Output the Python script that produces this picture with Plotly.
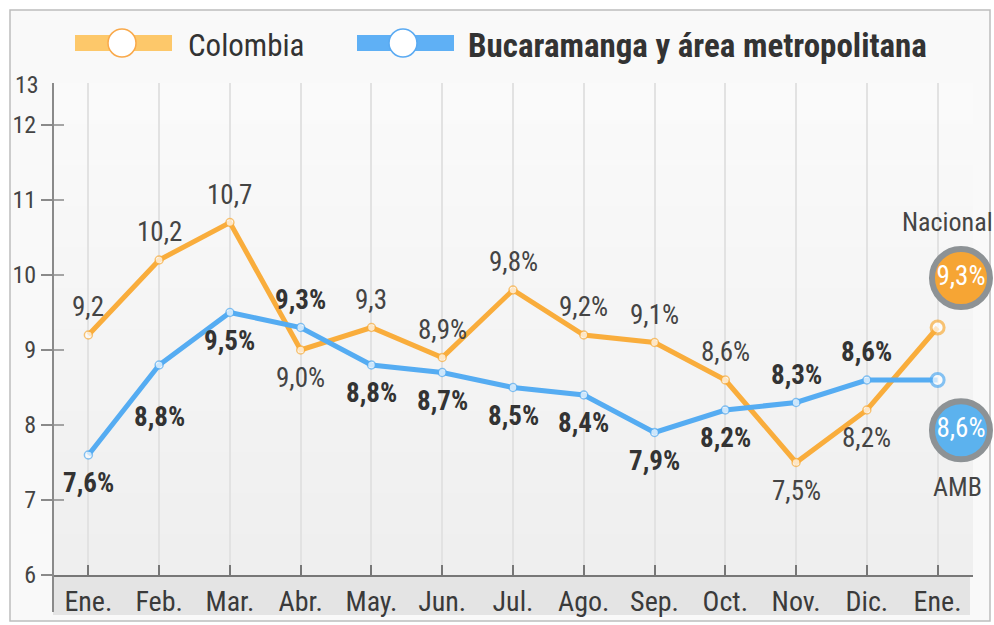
import plotly.graph_objects as go

# --- DADOS ---
meses = ["Ene.", "Feb.", "Mar.", "Abr.", "May.", "Jun.", "Jul.", "Ago.", "Sep.", "Oct.", "Nov.", "Dic.", "Ene."]
colombia = [9.2, 10.2, 10.7, 9.0, 9.3, 8.9, 9.8, 9.2, 9.1, 8.6, 7.5, 8.2, 9.3]
amb = [7.6, 8.8, 9.5, 9.3, 8.8, 8.7, 8.5, 8.4, 7.9, 8.2, 8.3, 8.6, 8.6]
rotulos_colombia = ["9,2", "10,2", "10,7", "9,0%", "9,3", "8,9%", "9,8%", "9,2%", "9,1%", "8,6%", "7,5%", "8,2%", ""]
rotulos_amb = ["7,6%", "8,8%", "9,5%", "9,3%", "8,8%", "8,7%", "8,5%", "8,4%", "7,9%", "8,2%", "8,3%", "8,6%", ""]
y_ticks = [6, 7, 8, 9, 10, 11, 12]

# --- ESTILO ---
LARANJA = "#f9ad3c"
AZUL = "#55acf2"
FONTE = "Liberation Sans Narrow, Arial Narrow, Roboto Condensed, DejaVu Sans Condensed, sans-serif"
# posição do rótulo: +1 acima, -1 abaixo
lado_colombia = [1, 1, 1, -1, 1, 1, 1, 1, 1, 1, -1, -1, 0]
lado_amb = [-1, -1, -1, 1, -1, -1, -1, -1, -1, -1, 1, 1, 0]

W, H = 994, 625
L, R, T, B = 53, 973, 83, 575  # área do gráfico em pixels


def px(x):
    return (x - L) / (R - L)


def py(y):
    return (B - y) / (B - T)


fig = go.Figure()
n = len(meses)
xs = list(range(n))

fig.add_trace(go.Scatter(
    x=xs, y=colombia, mode="lines+markers", name="Colombia",
    line=dict(color=LARANJA, width=5),
    marker=dict(color="white", size=[8] * (n - 1) + [13],
                line=dict(color=LARANJA, width=[1.5] * (n - 1) + [3])),
    showlegend=False, cliponaxis=False,
))
fig.add_trace(go.Scatter(
    x=xs, y=amb, mode="lines+markers", name="Bucaramanga y área metropolitana",
    line=dict(color=AZUL, width=5),
    marker=dict(color="white", size=[8] * (n - 1) + [13],
                line=dict(color=AZUL, width=[1.5] * (n - 1) + [3])),
    showlegend=False, cliponaxis=False,
))

# bolhas finais
fig.add_trace(go.Scatter(
    x=[n - 1 + 0.33, n - 1 + 0.33], y=[colombia[-1] + 0.66, amb[-1] - 0.67],
    mode="markers+text",
    marker=dict(size=58, color=["#f6a534", "#5cb2ee"], line=dict(color="#8d9295", width=6)),
    text=[f"{colombia[-1]:.1f}%".replace(".", ","), f"{amb[-1]:.1f}%".replace(".", ",")],
    textfont=dict(family=FONTE, size=27, color="white"),
    textposition="middle center", showlegend=False, hoverinfo="skip", cliponaxis=False,
))

annotations = []
for i in range(n):
    if rotulos_colombia[i]:
        annotations.append(dict(x=i, y=colombia[i], text=rotulos_colombia[i], showarrow=False,
                                yshift=28 * lado_colombia[i], yanchor="middle",
                                font=dict(family=FONTE, size=27, color="#444444")))
    if rotulos_amb[i]:
        annotations.append(dict(x=i, y=amb[i], text=f"<b>{rotulos_amb[i]}</b>", showarrow=False,
                                yshift=28 * lado_amb[i] - (24 if i == 1 else 0), yanchor="middle",
                                font=dict(family=FONTE, size=27, color="#333333")))


def texto(x, y, s, size=25, xanchor="center", color="#444444"):
    return dict(xref="paper", yref="paper", x=px(x), y=py(y), text=s, showarrow=False,
                xanchor=xanchor, yanchor="middle", font=dict(family=FONTE, size=size, color=color))


annotations += [
    texto(947, 222, "Nacional", size=26),
    texto(957, 487, "AMB", size=26),
    texto(41, 85, "13", size=24, xanchor="right"),
    texto(186, 45, "Colombia", size=31, xanchor="left", color="#333333"),
    texto(466, 45, "<b>Bucaramanga y área metropolitana</b>", size=33, xanchor="left", color="#333333"),
]

shapes = [
    # moldura
    dict(type="rect", xref="paper", yref="paper", x0=px(10), x1=px(990), y0=py(621), y1=py(10),
         line=dict(color="#bdbdbd", width=1.5), fillcolor="#f9f9f9", layer="below"),
    # faixa abaixo do eixo x
    dict(type="rect", xref="paper", yref="paper", x0=px(L), x1=px(970), y0=py(615), y1=py(B),
         line=dict(width=0), fillcolor="#e4e4e4", layer="below"),
]
# gradiente do fundo
faixas = 12
for k in range(faixas):
    y0 = T + (B - T) * k / faixas
    y1 = T + (B - T) * (k + 1) / faixas
    g = int(250 - 11 * k / (faixas - 1))
    shapes.append(dict(type="rect", xref="paper", yref="paper", x0=0, x1=1, y0=py(y1), y1=py(y0),
                       line=dict(width=0), fillcolor=f"rgb({g},{g},{g})", layer="below"))
# eixo y descendo até a faixa e ticks internos
shapes.append(dict(type="line", xref="paper", yref="paper", x0=0, x1=0, y0=py(612), y1=1,
                   line=dict(color="#8a8a8a", width=2)))
for v in y_ticks[1:]:
    shapes.append(dict(type="line", xref="paper", yref="y", x0=0, x1=px(64), y0=v, y1=v,
                       line=dict(color="#8a8a8a", width=1.5)))

# legenda desenhada
for cor, borda, cx, x0, x1 in [("#fdc86a", "#f9a94a", 122, 75, 172), ("#5fb0f5", "#5aaaf2", 403, 357, 454)]:
    shapes.append(dict(type="rect", xref="paper", yref="paper", x0=px(x0), x1=px(x1),
                       y0=py(51), y1=py(35), line=dict(width=0), fillcolor=cor))
    shapes.append(dict(type="circle", xref="paper", yref="paper", x0=px(cx - 14), x1=px(cx + 14),
                       y0=py(57), y1=py(29), fillcolor="white", line=dict(color=borda, width=1.5)))

fig.update_layout(
    width=W, height=H,
    margin=dict(l=L, r=W - R, t=T, b=H - B, autoexpand=False),
    paper_bgcolor="white", plot_bgcolor="rgba(0,0,0,0)",
    font=dict(family=FONTE, color="#444444"),
    shapes=shapes, annotations=annotations,
    xaxis=dict(range=[-0.5, n - 0.5], tickvals=xs, ticktext=meses, tickson="boundaries",
               ticks="inside", ticklen=10, tickcolor="#777777", tickwidth=1.5,
               showline=True, linecolor="#777777", linewidth=2, automargin=False,
               showgrid=True, gridcolor="#e2e2e2", gridwidth=1.5, zeroline=False,
               tickfont=dict(family=FONTE, size=28, color="#3a3a3a")),
    yaxis=dict(range=[6, 12.56], tickvals=y_ticks, ticks="outside", ticklen=11, automargin=False,
               tickcolor="#8a8a8a", tickwidth=1.5, showline=False, showgrid=False, zeroline=False,
               ticklabelstandoff=0,
               tickfont=dict(family=FONTE, size=24, color="#444444")),
)

# tira a margem padrão do body para a figura ocupar a janela inteira
fig.write_html("out.html", config={"displayModeBar": False},
               post_script="document.body.style.margin='0';")
